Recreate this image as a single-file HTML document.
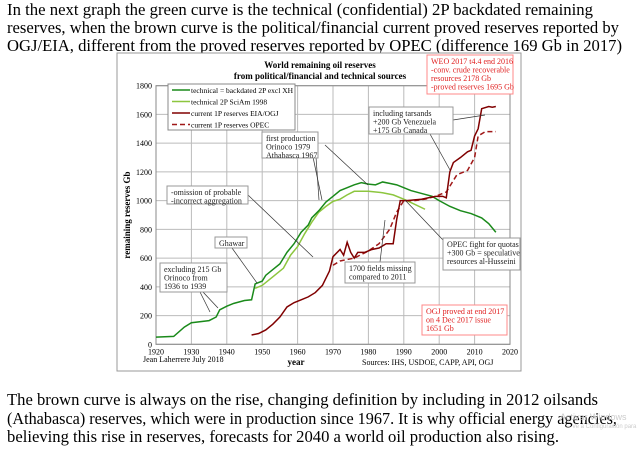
<!DOCTYPE html>
<html><head><meta charset="utf-8"><style>
body{margin:0;background:#fff;width:639px;height:450px;overflow:hidden;font-family:"Liberation Serif",serif}
svg{position:absolute;left:0;top:0}
</style></head><body>
<svg width="639" height="450" font-family="Liberation Serif, serif">
<g font-size="16.5" fill="#000">
<text x="7" y="15" textLength="586" lengthAdjust="spacingAndGlyphs">In the next graph the green curve is the technical (confidential) 2P backdated  remaining</text>
<text x="7" y="33" textLength="612" lengthAdjust="spacingAndGlyphs">reserves, when the brown curve is the political/financial current proved reserves reported by</text>
<text x="7" y="51" textLength="615" lengthAdjust="spacingAndGlyphs">OGJ/EIA, different from the proved reserves reported by OPEC (difference 169 Gb in 2017)</text>
</g>
<g font-size="16.5" fill="#000">
<text x="7" y="405" textLength="591" lengthAdjust="spacingAndGlyphs">The brown curve is always on the rise, changing definition  by including in 2012 oilsands</text>
<text x="7" y="424" textLength="610" lengthAdjust="spacingAndGlyphs">(Athabasca) reserves, which were in production since 1967. It is why official energy agencies,</text>
<text x="7" y="442" textLength="552" lengthAdjust="spacingAndGlyphs">believing this rise in reserves, forecasts for 2040 a world oil production also rising.</text>
</g>
<text x="560" y="420" font-family="Liberation Sans, sans-serif" font-size="9" fill="#ccc">Activar Windows</text>
<text x="572" y="428" font-family="Liberation Sans, sans-serif" font-size="6" fill="#ccc">Ve a Configuración para</text>
<rect x="117" y="53" width="404" height="318" fill="#fff" stroke="#999"/>
<g id="chart"></g>
</svg>
<script>
const years = [1920,2020];
const yTicks = [0,200,400,600,800,1000,1200,1400,1600,1800];
const xTicks = [1920,1930,1940,1950,1960,1970,1980,1990,2000,2010,2020];
const techYears = [1920,1925,1928,1930,1935,1937,1938,1940,1942,1945,1947,1948,1950,1951,1953,1955,1957,1959,1961,1963,1964,1966,1968,1970,1972,1974,1976,1978,1980,1982,1984,1986,1988,1990,1992,1995,1998,2000,2003,2006,2009,2012,2014,2016];
const techVals = [50,55,120,150,165,190,240,265,285,305,310,420,440,480,520,560,640,700,780,830,880,930,990,1030,1070,1090,1110,1125,1115,1110,1130,1120,1110,1090,1070,1050,1030,1000,960,930,910,880,840,780];
const sciYears = [1948,1950,1953,1956,1958,1960,1962,1964,1966,1968,1970,1972,1974,1976,1980,1984,1987,1990,1993,1996];
const sciVals = [390,410,470,530,620,680,770,850,920,960,995,1010,1040,1065,1065,1055,1040,1010,975,940];
const ogjYears = [1947,1949,1951,1953,1955,1957,1959,1961,1963,1965,1967,1969,1970,1972,1973,1974,1975,1976,1977,1979,1981,1983,1985,1987,1988,1989,1991,1993,1995,1997,1999,2001,2002,2003,2004,2006,2008,2009,2010,2011,2012,2014,2015,2016];
const ogjVals = [65,75,100,140,190,260,290,310,330,360,410,510,610,660,620,710,640,600,640,640,660,670,700,700,870,1000,1000,1005,1010,1020,1030,1030,1020,1200,1265,1300,1340,1350,1450,1500,1640,1655,1650,1655];
const opecYears = [1970,1972,1976,1980,1983,1986,1988,1990,1993,1996,1999,2002,2005,2008,2010,2011,2013,2016];
const opecVals = [550,580,600,650,700,800,920,1000,1000,1010,1030,1060,1180,1210,1300,1450,1480,1480];

const NS='http://www.w3.org/2000/svg';
const g=document.getElementById('chart');
const X0=156,X1=510,Y0=344.3,Y1=85.7;
const sx=v=>X0+(v-years[0])/(years[1]-years[0])*(X1-X0);
const sy=v=>Y0-v/1800*(Y0-Y1);
function mk(t,a,p){const e=document.createElementNS(NS,t);for(const k in a)e.setAttribute(k,a[k]);(p||g).appendChild(e);return e;}
yTicks.forEach(v=>{
 const l=mk('line',{x1:X0,x2:X1,y1:sy(v),y2:sy(v),stroke:'#bbb','stroke-width':1});
 
 
 const t=mk('text',{x:X0-4,y:sy(v)+3,'text-anchor':'end','font-size':8});
 t.textContent=v;
 
 
});
xTicks.forEach(v=>{
 const l=mk('line',{x1:sx(v),x2:sx(v),y1:Y1,y2:Y0,stroke:'#bbb','stroke-width':1});
 
 
 const t=mk('text',{x:sx(v),y:Y0+10,'text-anchor':'middle','font-size':8});
 t.textContent=v;
 
 
});
mk('rect',{x:X0,y:Y1,width:X1-X0,height:Y0-Y1,fill:'none',stroke:'#888'});
function series(xs,ys,color,w,dash,name){
 const p=mk('polyline',{points:xs.map((x,i)=>sx(x)+','+sy(ys[i])).join(' '),fill:'none',stroke:color,'stroke-width':w});
 if(dash)p.setAttribute('stroke-dasharray',dash);
 
 
}
series(sciYears,sciVals,'#8dc63f',1.5,null,'sciam-1998-line');
series(techYears,techVals,'#1a8a1a',1.5,null,'technical-2p-line');
series(opecYears,opecVals,'#a01818',1.5,'5,3','opec-reserves-line');
series(ogjYears,ogjVals,'#800000',1.5,null,'ogj-eia-line');
function txt(x,y,s,o){const t=mk('text',Object.assign({x:x,y:y,'font-size':8},o||{}));t.textContent=s;return t;}
let t;
t=txt(320,68,'World remaining oil reserves',{'text-anchor':'middle','font-weight':'bold','font-size':9});

t=txt(320,79,'from political/financial and technical sources',{'text-anchor':'middle','font-weight':'bold','font-size':9});

t=txt(130,215,'remaining reserves Gb',{'text-anchor':'middle','font-weight':'bold','font-size':9,transform:'rotate(-90 130 215)'});

t=txt(296,365,'year',{'text-anchor':'middle','font-weight':'bold','font-size':9});

t=txt(143,362,'Jean Laherrere July 2018');

t=txt(362,365,'Sources: IHS, USDOE, CAPP, API, OGJ');

const lg=mk('rect',{x:168,y:84,width:127,height:46,fill:'#fff',stroke:'#888'});

[['technical = backdated 2P excl XH','#1a8a1a',null],['technical 2P SciAm 1998','#8dc63f',null],['current 1P reserves EIA/OGJ','#800000',null],['current 1P reserves OPEC','#a01818','5,3']].forEach((e,i)=>{
 const y=90+i*11.5;
 const l=mk('line',{x1:172,x2:190,y1:y,y2:y,stroke:e[1],'stroke-width':1.5});
 if(e[2])l.setAttribute('stroke-dasharray',e[2]);
 
 const tt=txt(191,y+3,e[0],{'font-size':7.5});
 
});
function box(x,y,w,h,lines,name,color,leaders){
 (leaders||[]).forEach(L=>mk('line',{x1:L[0],y1:L[1],x2:L[2],y2:L[3],stroke:'#333','stroke-width':0.7}));
 const r=mk('rect',{x:x,y:y,width:w,height:h,fill:'#fff',stroke:color?'#f88':'#999'});
 
 lines.forEach((s,i)=>{const tt=txt(x+4,y+9+i*8.5,s,{fill:color||'#222'});});
}
box(262,132,56,26,['first production','Orinoco 1979','Athabasca 1967'],'first-production-note',null,[[325,145,368,185],[313,157,322,200],[316,157,319,200]]);
box(369,107,84,27,['including tarsands','+200 Gb Venezuela','+175 Gb Canada'],'tarsands-note',null,[[453,120,485,115],[430,134,450,170]]);
box(427,55,86,39,['WEO 2017 t4.4 end 2016','-conv. crude recoverable','resources            2178 Gb','-proved reserves 1695 Gb'],'weo-note','#e02020');
box(167,186,81,18,['-omission of probable','-incorrect aggregation'],'omission-note',null,[[248,195,313,257]]);
box(215,237,32,11,['Ghawar'],'ghawar-note',null,[[232,248,257,283]]);
box(160,263,67,29,['excluding 215 Gb','Orinoco from','1936 to 1939'],'orinoco-note',null,[[200,292,210,312],[203,292,218,308]]);
box(345,262,70,21,['1700 fields missing','compared to 2011'],'fields-missing-note',null,[[380,262,385,220]]);
box(443,238,77,32,['OPEC fight for quotas','+300 Gb = speculative','resources al-Husseini'],'opec-fight-note',null,[[443,240,405,200]]);
box(422,305,85,30,['OGJ proved at end 2017','on 4 Dec 2017 issue','          1651 Gb'],'ogj-2017-note','#e02020');
</script>
</body></html>
